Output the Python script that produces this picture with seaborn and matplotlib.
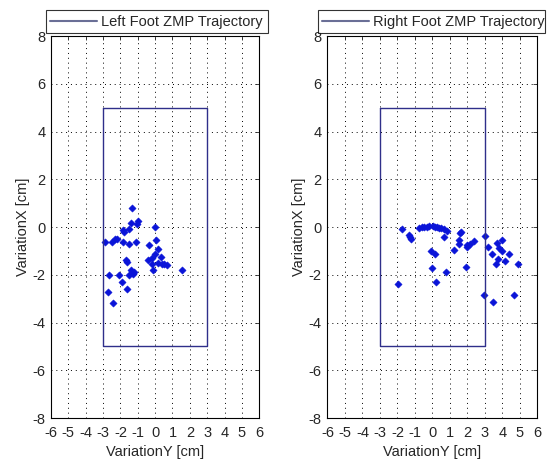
import numpy as np
import pandas as pd
import matplotlib
matplotlib.use("Agg")
import matplotlib.pyplot as plt
import seaborn as sns

# support polygon (same for both feet)
rect_y = [-3, 3, 3, -3, -3]
rect_x = [5, 5, -5, -5, 5]

# left foot ZMP samples (VariationY, VariationX) in cm
left_y = [-1.35, -0.97, -1.06, -1.40, -1.48, -1.87, -1.80, 0.00, -2.31, -2.20,
          -2.50, -2.89, -1.87, -1.48, -1.10, 0.06, -0.33, 0.19, 0.00, -1.68,
          -1.60, -0.40, -0.20, 0.17, 0.35, 0.50, -0.19, 0.39, 0.67, -0.10,
          -1.40, -1.30, -1.50, -1.20, -2.64, -2.06, 1.54, -1.89, -1.60, -2.70,
          -2.45]
left_x = [0.79, 0.27, 0.13, 0.17, -0.07, -0.12, -0.20, 0.02, -0.49, -0.49,
          -0.63, -0.63, -0.63, -0.70, -0.63, -0.52, -0.77, -0.91, -1.12, -1.37,
          -1.45, -1.37, -1.30, -1.50, -1.25, -1.55, -1.53, -1.53, -1.60, -1.81,
          -1.80, -1.95, -2.00, -1.90, -2.02, -1.99, -1.81, -2.30, -2.58, -2.71,
          -3.20]

# right foot ZMP samples (VariationY, VariationX) in cm
right_y = [-1.71, -1.34, -1.24, -1.30, -0.76, -0.60, -0.47, -0.30, -0.19, 0.04,
           0.15, 0.29, 0.40, 0.48, 0.67, 0.86, 0.67, 1.58, 1.65, 1.50,
           1.52, 1.24, 2.00, 2.15, 2.35, 2.00, -0.09, 0.15, -0.04, 0.80,
           1.90, 0.23, -1.99, 3.00, 3.19, 3.38, 3.71, 3.96, 3.80, 3.96,
           4.37, 3.76, 4.14, 3.65, 4.90, 2.95, 3.48, 4.64]
right_x = [-0.10, -0.33, -0.50, -0.40, -0.04, -0.01, 0.00, 0.02, 0.03, 0.04,
           0.02, 0.00, -0.02, -0.04, -0.10, -0.17, -0.42, -0.26, -0.20, -0.52,
           -0.71, -0.95, -0.85, -0.69, -0.60, -0.75, -0.99, -1.13, -1.72, -1.88,
           -1.67, -2.30, -2.37, -0.38, -0.85, -1.13, -0.66, -0.52, -0.89, -0.99,
           -1.13, -1.34, -1.41, -1.55, -1.55, -2.84, -3.12, -2.84]

sns.set_style("white")
plt.rcParams["font.family"] = ["Liberation Sans", "DejaVu Sans"]
plt.rcParams["font.size"] = 10.5
plt.rcParams["axes.unicode_minus"] = False

fig = plt.figure(figsize=(5.54, 4.63), dpi=100)
ax_l = fig.add_axes([0.092, 0.097, 0.376, 0.825])
ax_r = fig.add_axes([0.591, 0.097, 0.379, 0.825])

rect = pd.DataFrame({"y": rect_y, "x": rect_x})

panels = [
    (ax_l, left_y, left_x, "Left Foot ZMP Trajectory", (-0.024, 1.008, 1.067, 0.068)),
    (ax_r, right_y, right_x, "Right Foot ZMP Trajectory", (-0.045, 1.008, 1.081, 0.068)),
]

for ax, py, px, label, bbox in panels:
    sns.lineplot(data=rect, x="y", y="x", sort=False, estimator=None,
                 color="#2f2f8a", linewidth=1.0, label=label, ax=ax)
    sns.scatterplot(x=py, y=px, marker="D", s=14, color="#0a14d8",
                    edgecolor="#0a14d8", linewidth=0.3, ax=ax, legend=False)

    ax.set_xlim(-6, 6)
    ax.set_ylim(-8, 8)
    ax.set_xticks(np.arange(-6, 7, 1))
    ax.set_yticks(np.arange(-8, 9, 2))
    ax.grid(True, color="black", linestyle=(0, (1, 4)), linewidth=0.7)
    ax.tick_params(direction="in", length=3, width=0.6,
                   top=True, right=True, labelsize=10.5)
    ax.tick_params(axis="x", pad=6)
    ax.tick_params(axis="y", pad=4)
    for s in ax.spines.values():
        s.set_color("black")
        s.set_linewidth(0.8)
    ax.set_xlabel("VariationY [cm]", labelpad=3)
    ax.set_ylabel("VariationX [cm]", labelpad=2)

    leg = ax.legend(loc="lower left", bbox_to_anchor=bbox, mode="expand",
                    borderaxespad=0, fancybox=False, frameon=True,
                    handlelength=3.2, handletextpad=0.25, fontsize=10.5,
                    borderpad=0.3)
    leg.get_frame().set_edgecolor("black")
    leg.get_frame().set_linewidth(0.8)
    leg.get_lines()[0].set_color("#6a6f96")
    leg.get_lines()[0].set_linewidth(1.5)

fig.savefig("out.png", dpi=100)
